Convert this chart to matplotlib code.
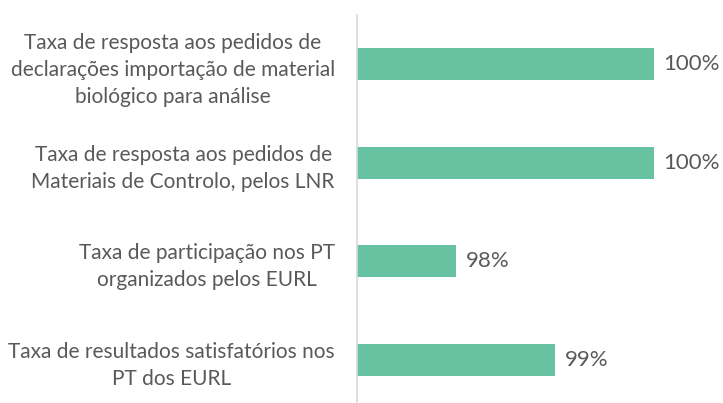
import matplotlib
matplotlib.use("Agg")
import matplotlib.pyplot as plt

categories = [
    "Taxa de resposta aos pedidos de\ndeclarações importação de material\nbiológico para análise",
    "Taxa de resposta aos pedidos de\nMateriais de Controlo, pelos LNR",
    "Taxa de participação nos PT\norganizados pelos EURL",
    "Taxa de resultados satisfatórios nos\nPT dos EURL",
]
values = [1.00, 1.00, 0.98, 0.99]
labels = ["100%", "100%", "98%", "99%"]

plt.rcParams['font.family'] = ['Lato', 'DejaVu Sans']
grey = "#595959"

fig = plt.figure(figsize=(7.23, 4.03), dpi=100)
ax = fig.add_axes([357 / 723, -6 / 403, 366 / 723, 394 / 403])

pos = list(range(len(categories)))
base = 0.97
bars = ax.barh(pos, [v - base for v in values], left=base, height=0.325,
               color="#66C2A0")
ax.bar_label(bars, labels=labels, padding=7, fontsize=16, color=grey)

ax.set_xlim(0.97, 1.007)
ax.set_ylim(len(categories) - 0.5, -0.5)
ax.set_yticks(pos)
ax.set_yticklabels(categories, fontsize=15, color=grey)
for t in ax.get_yticklabels():
    t.set_multialignment("center")
    t.set_linespacing(1.45)
ax.tick_params(axis="y", length=0, pad=16)
ax.set_xticks([])

for s in ["top", "right", "bottom"]:
    ax.spines[s].set_visible(False)
ax.spines["left"].set_color("#D9D9D9")
ax.spines["left"].set_linewidth(1.2)

fig.savefig("out.png", dpi=100)
